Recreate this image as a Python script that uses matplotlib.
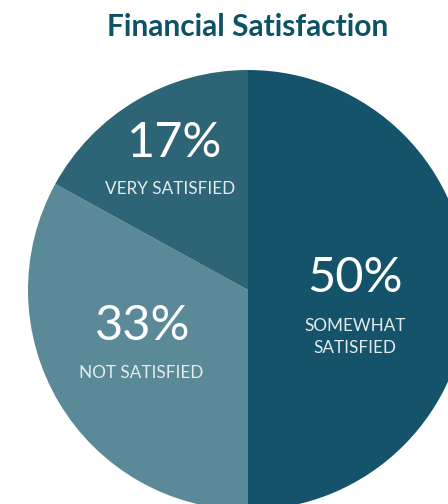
import matplotlib
matplotlib.use("Agg")
import matplotlib.pyplot as plt

labels = ["SOMEWHAT\nSATISFIED", "NOT SATISFIED", "VERY SATISFIED"]
values = [50, 33, 17]
pct_labels = ["50%", "33%", "17%"]
colors = ["#14536a", "#5a8a98", "#2d6576"]
title = "Financial Satisfaction"

fig = plt.figure(figsize=(4.48, 5.04), dpi=100)
ax = fig.add_axes([0, 0, 1, 1])

H = 504
cx, cy, r = 248, H - 290, 220
ax.pie(values, colors=colors, startangle=90, counterclock=False,
       center=(cx, cy), radius=r, frame=True,
       wedgeprops=dict(linewidth=0))
ax.set_xlim(0, 448)
ax.set_ylim(0, 504)
ax.set_aspect("equal")
ax.axis("off")

fam = ["Lato", "DejaVu Sans"]
pct_pos = [(355, 278), (143, 326), (175, 143)]
lab_pos = [(355, 337), (141, 373), (170, 189)]
for p, l, (px, py), (lx, ly) in zip(pct_labels, labels, pct_pos, lab_pos):
    ax.text(px, H - py, p, ha="center", va="center", color="white",
            fontsize=35, family=fam, fontweight="normal")
    ax.text(lx, H - ly, l, ha="center", va="center", color="#e4eced",
            fontsize=12.3, family=fam, linespacing=1.4)

ax.text(248, H - 27, title, ha="center", va="center", color="#0e5266",
        fontsize=21.5, family=fam, fontweight="bold")

fig.savefig("out.png", dpi=100)
